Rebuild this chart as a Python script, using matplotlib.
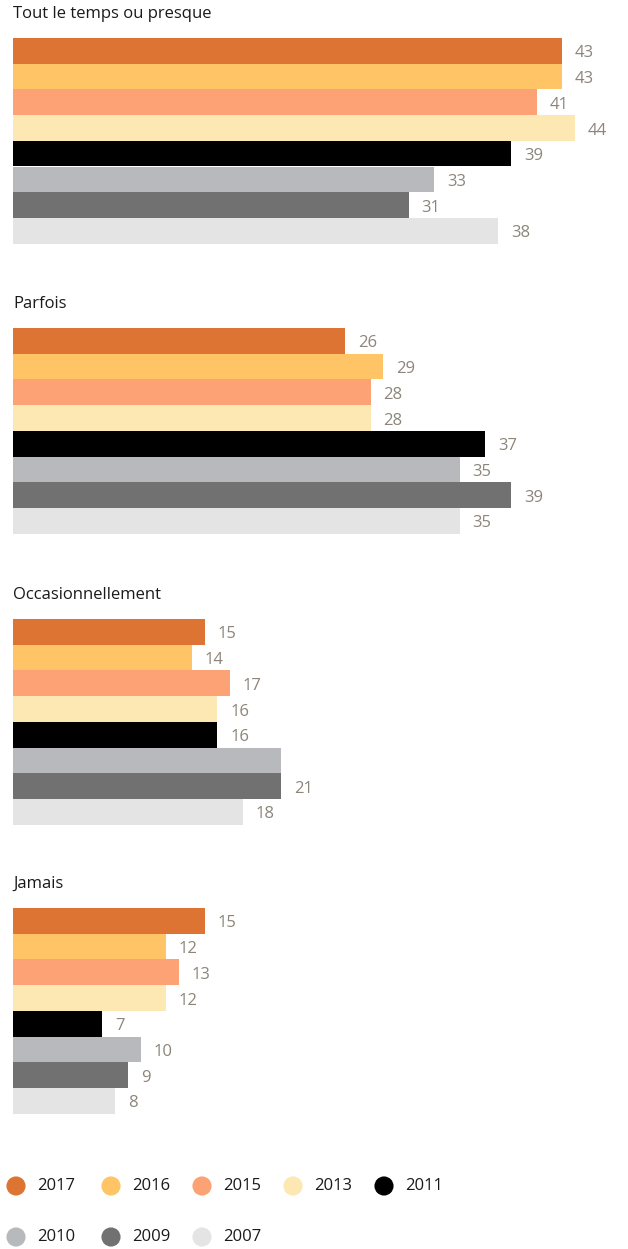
import matplotlib.pyplot as plt

plt.rcParams['font.family'] = ['Open Sans', 'DejaVu Sans']

# Survey answers, one panel per frequency, one bar per survey year
categories = ["Tout le temps ou presque", "Parfois", "Occasionnellement", "Jamais"]
years = ["2017", "2016", "2015", "2013", "2011", "2010", "2009", "2007"]
colors = ["#DD7433", "#FEC465", "#FDA274", "#FDE8B4",
          "#000000", "#B7B9BD", "#717171", "#E4E4E4"]

tout_le_temps = [43, 43, 41, 44, 39, 33, 31, 38]
parfois = [26, 29, 28, 28, 37, 35, 39, 35]
occasionnellement = [15, 14, 17, 16, 16, 21, 21, 18]
jamais = [15, 12, 13, 12, 7, 10, 9, 8]
# the 2010 "Occasionnellement" bar carries no value label
show_label = [
    [True] * 8,
    [True] * 8,
    [True, True, True, True, True, False, True, True],
    [True] * 8,
]

panels = [tout_le_temps, parfois, occasionnellement, jamais]

W, H = 628, 1249
fig = plt.figure(figsize=(W / 100, H / 100), dpi=100)

left_px = 13
unit_px = 12.77
xmax = 48
bar_h_px = 25.7
panel_tops = [38, 328, 619, 908]
label_color = "#8C857A"

for p, (name, vals) in enumerate(zip(categories, panels)):
    top = panel_tops[p]
    height_px = bar_h_px * len(years)
    ax = fig.add_axes([left_px / W, 1 - (top + height_px) / H,
                       xmax * unit_px / W, height_px / H])
    ypos = list(range(len(years)))
    ax.barh(ypos, vals, height=1.0, color=colors, edgecolor="none")
    for i, v in enumerate(vals):
        if show_label[p][i]:
            ax.text(v + 1.0, i + 0.1, str(v), va="center", ha="left",
                    fontsize=12, color=label_color)
    ax.set_xlim(0, xmax)
    ax.set_ylim(len(years) - 0.5, -0.5)
    ax.axis("off")
    fig.text(left_px / W, 1 - (top - 24) / H, name, ha="left", va="center",
             fontsize=12, color="#1A1A1A")

# Legend of survey years in two rows
leg = fig.add_axes([0, 0, 1, 1], facecolor="none")
leg.set_xlim(0, W)
leg.set_ylim(H, 0)
leg.axis("off")
col_x = [16, 111, 202, 293, 384]
row_y = [1186, 1237]
for i, (yr, c) in enumerate(zip(years, colors)):
    x = col_x[i % 5]
    y = row_y[i // 5]
    leg.scatter([x], [y], s=190, color=c, edgecolors="none")
    leg.text(x + 21, y, yr, ha="left", va="center", fontsize=12,
             color="#1A1A1A")

fig.savefig("out.png", dpi=100)
